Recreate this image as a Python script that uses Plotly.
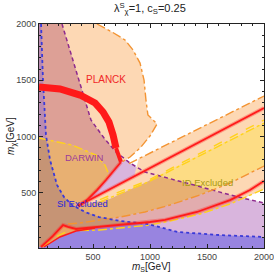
import plotly.graph_objects as go

# ---------------- data (m_S, m_chi in GeV) ----------------
# boundaries
si_x = [43, 60, 86, 122, 183, 244, 315, 429, 552, 736, 981, 1245, 1614, 2000]
si_y = [2000, 1502, 1014, 792, 570, 463, 392, 330, 285, 250, 223, 152, 125, 108]

darwin_x = [227, 350, 481, 596, 701, 824, 955, 1350, 1772, 2000]
darwin_y = [2000, 1591, 1147, 987, 863, 765, 685, 579, 463, 410]

blob_x = [534, 666, 780, 850, 912, 947, 964, 981, 1061, 999, 912, 824, 754]
blob_y = [2000, 1929, 1858, 1769, 1653, 1502, 1325, 1192, 1112, 1005, 898, 818, 774]

id_left_x = [25, 315, 525, 604, 644]
id_left_y = [987, 925, 836, 747, 650]

thick_x = [25, 209, 385, 517, 587, 639, 675, 701]
thick_y = [1440, 1423, 1369, 1298, 1218, 1129, 1014, 898]
thick_end_x = [701, 727, 745]
thick_end_y = [898, 810, 774]

arm_x = [745, 675, 613, 534, 446, 367]
arm_y = [774, 685, 614, 525, 436, 383]

ub_red_x = [367, 999, 2000]
ub_red_y = [383, 720, 1254]
ub_top_x = [815, 1017, 2000]
ub_top_y = [760, 862, 1360]
ub_low_x = [560, 981, 2000]
ub_low_y = [440, 610, 1147]
ub_low2_x = [560, 981, 2000]
ub_low2_y = [420, 595, 1120]

lb_red_x = [43, 148, 236, 280, 350, 560, 824, 999, 1131, 1412, 1702, 1877, 2000]
lb_red_y = [19, 117, 214, 197, 179, 197, 223, 241, 259, 330, 436, 525, 605]
lb_inner_x = [69, 209, 350, 517]
lb_inner_y = [19, 108, 161, 188]
lb_top_x = [280, 385, 560, 736, 955, 1175, 1438, 1702, 2000]
lb_top_y = [223, 232, 259, 285, 330, 392, 481, 587, 738]
lb_low_x = [385, 560, 736, 999, 1175, 1438, 1702, 2000]
lb_low_y = [165, 170, 188, 214, 250, 312, 401, 534]

ticks = [500, 1000, 1500, 2000]
x_range = [25, 2000]
y_range = [10, 2000]

# colours
LAV, PEACH, ROSE = "#D9B5DD", "#FDD8B4", "#DDA096"
STRIP, YEL, TAN = "#B98AB0", "#FDDC84", "#E8B072"
BROWN, PURP, PINK = "#C69475", "#9884E0", "#E2ACAE"
WEDGE = "#E9A363"
RED, ORANGE, YELLOW, BLUE, PURPLE = "#FF1A1A", "#F39433", "#FFD21A", "#3A3AD8", "#8E2A8E"

fig = go.Figure()


def patch(xs, ys, color):
    fig.add_trace(go.Scatter(x=xs, y=ys, fill="toself", fillcolor=color,
                             mode="lines", line=dict(width=0), hoverinfo="skip"))


def line(xs, ys, color, width=1.4, dash="solid"):
    fig.add_trace(go.Scatter(x=xs, y=ys, mode="lines",
                             line=dict(color=color, width=width, dash=dash),
                             hoverinfo="skip"))


X0, X1 = x_range
Y0, Y1 = y_range

# DARWIN region (left/below purple dashed curve)
patch([X0] + darwin_x + [X1, X0], [Y1] + darwin_y + [Y0, Y0], LAV)
# PLANCK blob outside DARWIN
patch(darwin_x[:5] + [745] + blob_x[::-1][1:],
      darwin_y[:5] + [774] + blob_y[::-1][1:], PEACH)
# PLANCK blob inside DARWIN
patch([X0] + darwin_x[:5] + [745] + id_left_x[::-1],
      [Y1] + darwin_y[:5] + [774] + id_left_y[::-1], ROSE)
# upper PLANCK band
patch([367, 860, 900] + [X1, X1] + [981, 648],
      [383, 646, 803] + [1360, 1125] + [600, 445], PEACH)
# ID excluded (outside DARWIN)
patch([X1, 1073, 1350, 1540, 1702, X1], [1125, 653, 579, 524, 587, 738], YEL)
# ID excluded inside DARWIN
patch(id_left_x + arm_x[2:] + [648, 981, 1073, 1350, 1540] + lb_top_x[:7][::-1] + [X0],
      id_left_y + arm_y[2:] + [445, 600, 653, 579, 524] + lb_top_y[:7][::-1] + [223], TAN)
# lower PLANCK band
patch(lb_top_x + lb_low_x[::-1], lb_top_y + lb_low_y[::-1], PINK)
patch([1540, 1702, X1, X1, 1816, 1772], [524, 587, 738, 534, 454, 463], PEACH)
# SI excluded
patch([X0] + si_x + [X1, X0], [Y1] + si_y + [Y0, Y0], PURP)
# SI ∩ ID
patch([X0, 86] + si_x[3:10] + [906, 824, 560, 350, 280, 236, 148, 43, X0],
      [987, 978] + si_y[3:10] + [231, 223, 197, 179, 197, 214, 117, 19, 19], BROWN)
# SI ∩ PLANCK (left strip)
patch([X0, 43, 60, 86, 86, X0], [Y1, 2000, 1502, 1014, 978, 987], STRIP)
# small wedge at bottom left
patch(lb_red_x[:6] + lb_inner_x[::-1], lb_red_y[:5] + [197] + lb_inner_y[::-1], WEDGE)

# boundary lines
line(darwin_x, darwin_y, PURPLE, 1.5, "4px,3px")
line(blob_x, blob_y, ORANGE, 1.4, "dashdot")
line(ub_top_x, ub_top_y, ORANGE, 1.4, "dashdot")
line(ub_low_x, ub_low_y, YELLOW, 1.4, "dash")
line(ub_low2_x, ub_low2_y, YELLOW, 1.4, "dashdot")
line(lb_top_x, lb_top_y, ORANGE, 1.4, "dashdot")
line(lb_low_x, lb_low_y, YELLOW, 1.4, "dashdot")
line(id_left_x, id_left_y, YELLOW, 1.4, "dashdot")
line([56, 180, 300, 440], [19, 112, 170, 186], YELLOW, 1.4, "dash")
line(si_x, si_y, BLUE, 1.8, "dot")

# relic density (red)
for xs, ys in [(arm_x, arm_y), (ub_red_x, ub_red_y), (lb_red_x, lb_red_y)]:
    line(xs, ys, "rgba(255,40,40,0.35)", 4)
    line(xs, ys, RED, 1.8)
line(lb_inner_x, lb_inner_y, RED, 1.4)
line(thick_x, thick_y, RED, 7)
line(thick_end_x, thick_end_y, RED, 4)

FONT = "Liberation Sans, Arial, sans-serif"
labels = [("PLANCK", 613, 1511, "#F02828", 10),
          ("DARWIN", 420, 810, "#9A3A9A", 9.5),
          ("SI Excluded", 411, 401, "#2626D8", 9.5),
          ("ID Excluded", 1500, 596, "#A89A14", 9.5)]
for txt, x, y, c, s in labels:
    fig.add_annotation(x=x, y=y, text=txt, showarrow=False,
                       font=dict(family=FONT, size=s, color=c))

# axis titles
fig.add_annotation(text="<i>m</i><sub>S</sub>[GeV]", xref="paper", yref="paper",
                   x=0.5, y=-0.085, yanchor="middle", showarrow=False,
                   font=dict(family=FONT, size=10, color="#222"))
fig.add_annotation(text="<i>m</i><sub>χ</sub>[GeV]", xref="paper", yref="paper",
                   x=-0.125, y=0.5, xanchor="center", textangle=-90, showarrow=False,
                   font=dict(family=FONT, size=10, color="#222"))

axis_common = dict(showgrid=False, zeroline=False, showline=True, mirror="ticks",
                   linecolor="#222", linewidth=1, ticks="inside", ticklen=4,
                   tickcolor="#222", tickvals=ticks, automargin=False,
                   ticklabeloverflow="allow",
                   tickfont=dict(family=FONT, size=9, color="#444"),
                   minor=dict(ticks="inside", dtick=100, ticklen=2, tickcolor="#222"))

fig.update_layout(
    width=274, height=276, showlegend=False,
    margin=dict(l=39, r=10, t=24, b=28, autoexpand=False),
    paper_bgcolor="white", plot_bgcolor="white",
    title=dict(text="λ<sup>S</sup><sub>χ</sub>=1, c<sub>S</sub>=0.25", x=0.547, xanchor="center",
               y=0.97, yanchor="middle", xref="container", yref="container",
               font=dict(family=FONT, size=11, color="#222")),
    xaxis=dict(range=x_range, **axis_common),
    yaxis=dict(range=y_range, **axis_common),
)

fig.write_html("out.html", config={"displayModeBar": False},
               post_script="document.body.style.margin='0';")
